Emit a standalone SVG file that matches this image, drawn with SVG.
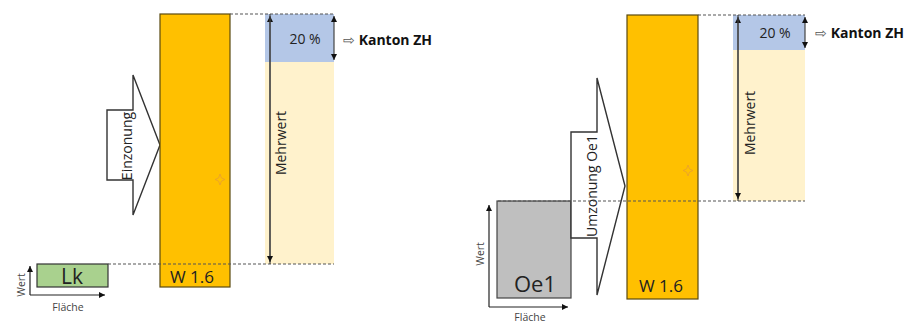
<svg xmlns="http://www.w3.org/2000/svg" width="915" height="323" viewBox="0 0 915 323">
<style>
text{font-family:"Open Sans","Noto Sans","Liberation Sans",sans-serif;fill:#222}
.w16{fill:#FFC000;stroke:#5a4a10;stroke-width:1.2}
.blue{fill:#B4C7E7}
.ylw{fill:#FFF2CC}
.dash{stroke:#555;stroke-width:1.2;stroke-dasharray:3,2;fill:none}
.dim{stroke:#444;stroke-width:1.2;fill:none}
.big{fill:#fff;stroke:#333;stroke-width:1.4}
.ax{stroke:#222;stroke-width:1.2;fill:none}
.lbl{font-size:14px}
.kz{font-size:14px;font-weight:bold;fill:#111}
.sm{font-size:10.5px;fill:#444}
</style>
<defs>
<marker id="ah" markerWidth="8" markerHeight="8" refX="6" refY="3" orient="auto" markerUnits="userSpaceOnUse">
<path d="M0,0 L6,3 L0,6 Z" fill="#111"/>
</marker>
</defs>

<g id="left">
<g id="einzonung">
<path class="big" d="M107,110 H133 V75 L160,145 L133,215 V180 H107 Z"/>
<text class="lbl" transform="translate(132,146) rotate(-90)" text-anchor="middle">Einzonung</text>
</g>
<g id="w16-left">
<rect class="w16" x="160" y="14" width="70" height="273"/>
<text x="170" y="283" font-size="17">W 1.6</text>
<path d="M220,174 L221.5,178 L225,179.5 L221.5,181 L220,185 L218.5,181 L215,179.5 L218.5,178 Z" fill="none" stroke="#e8a030" stroke-width="0.8"/>
</g>
<g id="mehrwert-left">
<rect class="ylw" x="265" y="62" width="69" height="202"/>
<rect class="blue" x="265" y="14" width="69" height="48"/>
<text class="lbl" x="305" y="44" text-anchor="middle" fill="#333">20 %</text>
<text class="lbl" transform="translate(286,143) rotate(-90)" text-anchor="middle">Mehrwert</text>
</g>
<g id="kanton-left">
<text class="kz" x="343" y="45"><tspan font-weight="normal" fill="#555">⇨</tspan> Kanton ZH</text>
</g>
<g id="lk">
<rect x="37" y="264" width="71" height="23" fill="#A9D18E" stroke="#333" stroke-width="1.2"/>
<text x="72" y="284" font-size="21" text-anchor="middle">Lk</text>
</g>
<g id="axes-left">
<path class="ax" d="M30,295 V266" marker-end="url(#ah)"/>
<path class="ax" d="M30,295 H105" marker-end="url(#ah)"/>
<text class="sm" transform="translate(25,285) rotate(-90)" text-anchor="middle">Wert</text>
<text class="sm" x="68" y="311" text-anchor="middle">Fläche</text>
</g>
</g>

<g id="right">
<g id="oe1">
<rect x="497" y="201" width="74" height="97" fill="#BFBFBF" stroke="#444" stroke-width="1.2"/>
<text x="535" y="292" font-size="22" text-anchor="middle" fill="#333">Oe1</text>
</g>
<g id="umzonung">
<path class="big" d="M571,132 H597 V78 L625,186 L597,295 V238 H571 Z"/>
<text class="lbl" transform="translate(597,186) rotate(-90)" text-anchor="middle">Umzonung Oe1</text>
</g>
<g id="w16-right">
<rect class="w16" x="627" y="15" width="71" height="284"/>
<text x="639" y="292" font-size="17">W 1.6</text>
<path d="M688,165 L689.5,169 L693,170.5 L689.5,172 L688,176 L686.5,172 L683,170.5 L686.5,169 Z" fill="none" stroke="#e8a030" stroke-width="0.8"/>
</g>
<g id="mehrwert-right">
<rect class="ylw" x="733" y="50" width="72" height="151"/>
<rect class="blue" x="733" y="15" width="72" height="35"/>
<text class="lbl" x="775" y="38" text-anchor="middle" fill="#333">20 %</text>
<text class="lbl" transform="translate(755,123) rotate(-90)" text-anchor="middle">Mehrwert</text>
</g>
<g id="kanton-right">
<text class="kz" x="815" y="38"><tspan font-weight="normal" fill="#555">⇨</tspan> Kanton ZH</text>
</g>
<g id="axes-right">
<path class="ax" d="M489,307 V205" marker-end="url(#ah)"/>
<path class="ax" d="M489,307 H568" marker-end="url(#ah)"/>
<text class="sm" transform="translate(484,254) rotate(-90)" text-anchor="middle">Wert</text>
<text class="sm" x="530" y="321" text-anchor="middle">Fläche</text>
</g>
</g>

<g id="connectors">
<path class="dash" d="M230,14 H334"/>
<path class="dash" d="M108,264 H334"/>
<path class="dim" d="M270,264 V16" marker-end="url(#ah)"/>
<path class="dim" d="M270,14 V262" marker-end="url(#ah)"/>
<path class="dim" d="M334,38 V16" marker-end="url(#ah)"/>
<path class="dim" d="M334,38 V60" marker-end="url(#ah)"/>
<path class="dash" d="M698,15 H805"/>
<path class="dash" d="M498,201 H805"/>
<path class="dim" d="M738,201 V17" marker-end="url(#ah)"/>
<path class="dim" d="M738,15 V199" marker-end="url(#ah)"/>
<path class="dim" d="M805,32 V17" marker-end="url(#ah)"/>
<path class="dim" d="M805,32 V48" marker-end="url(#ah)"/>
</g>
</svg>
